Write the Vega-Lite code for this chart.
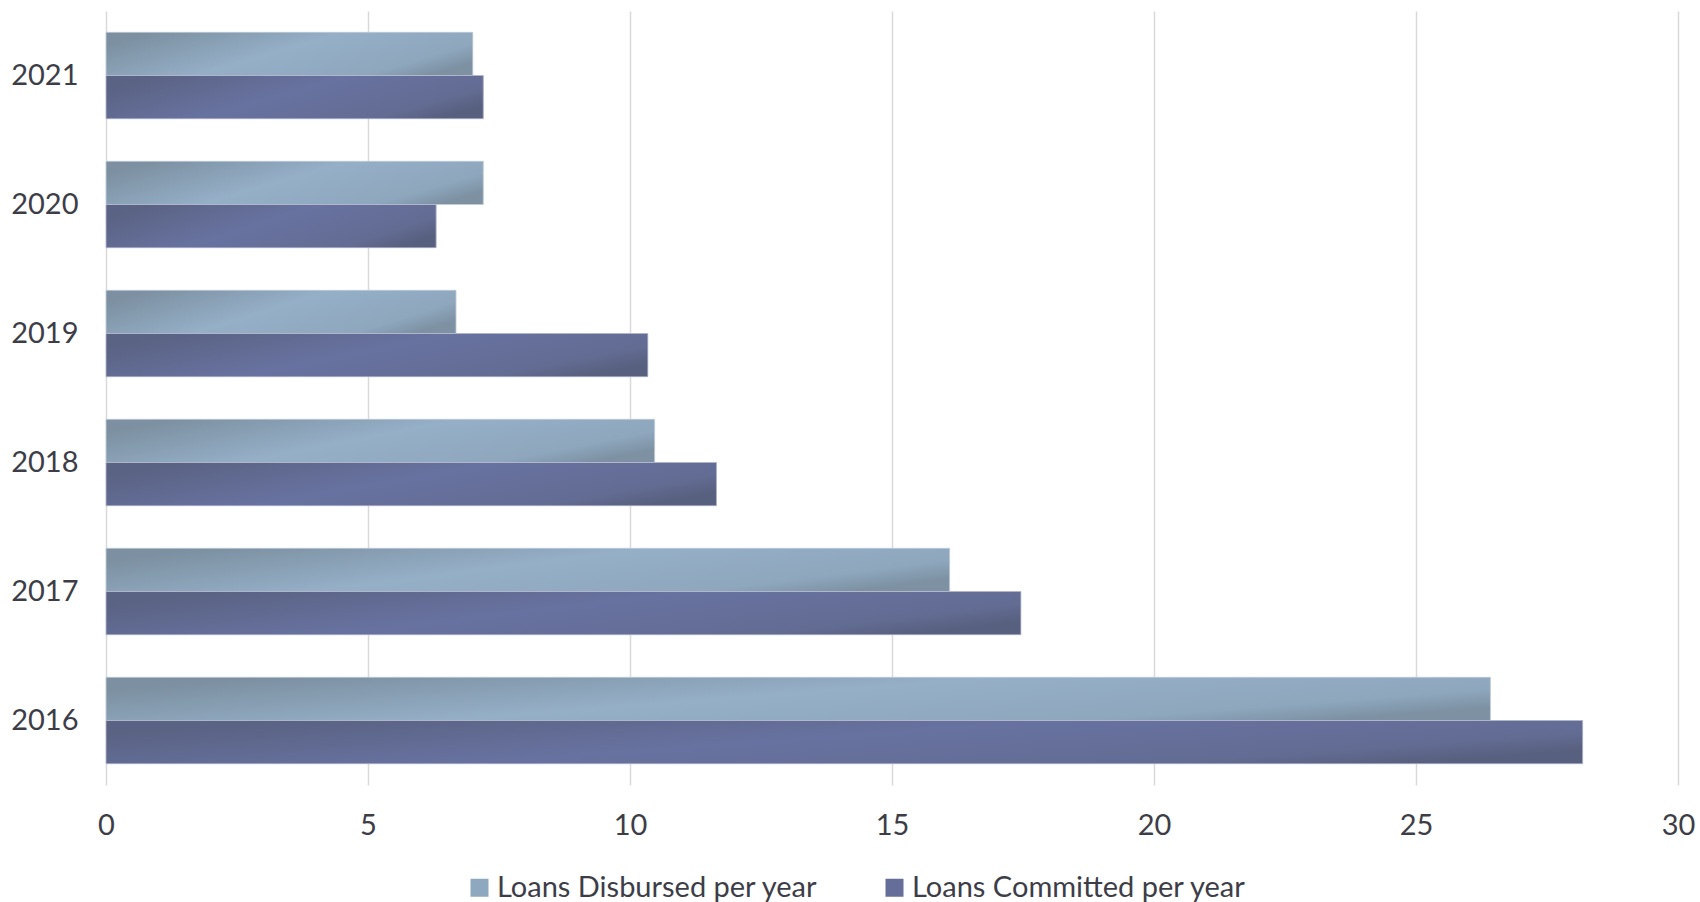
{
  "$schema": "https://vega.github.io/schema/vega-lite/v6.json",
  "autosize": "none",
  "width": 1572,
  "height": 774,
  "padding": {"left": 106, "top": 11, "right": 22, "bottom": 117},
  "background": "white",
  "config": {
    "view": {"stroke": null},
    "font": "Lato",
    "axis": {"labelFont": "Lato", "labelColor": "#3d3d48", "labelFontSize": 29}
  },
  "data": {
    "values": [
      {"year": "2021", "series": "Loans Disbursed per year", "value": 7.0},
      {"year": "2021", "series": "Loans Committed per year", "value": 7.2},
      {"year": "2020", "series": "Loans Disbursed per year", "value": 7.2},
      {"year": "2020", "series": "Loans Committed per year", "value": 6.3},
      {"year": "2019", "series": "Loans Disbursed per year", "value": 6.68},
      {"year": "2019", "series": "Loans Committed per year", "value": 10.34},
      {"year": "2018", "series": "Loans Disbursed per year", "value": 10.47},
      {"year": "2018", "series": "Loans Committed per year", "value": 11.65},
      {"year": "2017", "series": "Loans Disbursed per year", "value": 16.1},
      {"year": "2017", "series": "Loans Committed per year", "value": 17.46},
      {"year": "2016", "series": "Loans Disbursed per year", "value": 26.42},
      {"year": "2016", "series": "Loans Committed per year", "value": 28.18}
    ]
  },
  "encoding": {
    "y": {
      "field": "year", "type": "nominal", "sort": "descending",
      "scale": {"paddingInner": 0.33, "paddingOuter": 0.165},
      "axis": {"title": null, "ticks": false, "domain": false, "labelPadding": 28, "grid": false}
    },
    "x": {
      "field": "value", "type": "quantitative",
      "scale": {"domain": [0, 30], "nice": false},
      "axis": {"title": null, "values": [0, 5, 10, 15, 20, 25, 30], "ticks": false, "domain": false, "labelPadding": 26, "gridColor": "#d9d9d9", "gridWidth": 1.5, "labelFlush": false}
    },
    "yOffset": {
      "field": "series", "type": "nominal",
      "scale": {"domain": ["Loans Disbursed per year", "Loans Committed per year"], "paddingInner": 0, "paddingOuter": 0}
    }
  },
  "layer": [
    {
      "mark": {"type": "bar", "cornerRadius": 0},
      "encoding": {
        "color": {
          "field": "series", "type": "nominal",
          "scale": {"domain": ["Loans Disbursed per year", "Loans Committed per year"], "range": ["#8ea8bf", "#646e98"]},
          "legend": {
            "title": null, "orient": "none", "direction": "horizontal",
            "legendX": 359, "legendY": 862,
            "symbolType": "square", "symbolSize": 324, "symbolStrokeWidth": 0, "symbolOpacity": 1,
            "labelFont": "Lato", "labelFontSize": 29, "labelColor": "#3d3d48", "labelOffset": 3,
            "labelLimit": 0, "columnPadding": 62
          }
        }
      }
    },
    {
      "transform": [{"filter": "datum.series === 'Loans Disbursed per year'"}],
      "mark": {
        "type": "bar",
        "stroke": "#c9d3dc", "strokeWidth": 0.8,
        "fill": {"gradient": "linear", "x1": 0, "y1": 0.3, "x2": 1, "y2": 0.7,
          "stops": [{"offset": 0, "color": "#7c90a1"}, {"offset": 0.45, "color": "#95afc7"}, {"offset": 0.85, "color": "#8ea7bd"}, {"offset": 1, "color": "#7d91a3"}]}
      }
    },
    {
      "transform": [{"filter": "datum.series === 'Loans Committed per year'"}],
      "mark": {
        "type": "bar",
        "stroke": "#b9bdd0", "strokeWidth": 0.8,
        "fill": {"gradient": "linear", "x1": 0, "y1": 0.3, "x2": 1, "y2": 0.7,
          "stops": [{"offset": 0, "color": "#5a6383"}, {"offset": 0.45, "color": "#6872a0"}, {"offset": 0.85, "color": "#636c93"}, {"offset": 1, "color": "#58607f"}]}
      }
    }
  ]
}
